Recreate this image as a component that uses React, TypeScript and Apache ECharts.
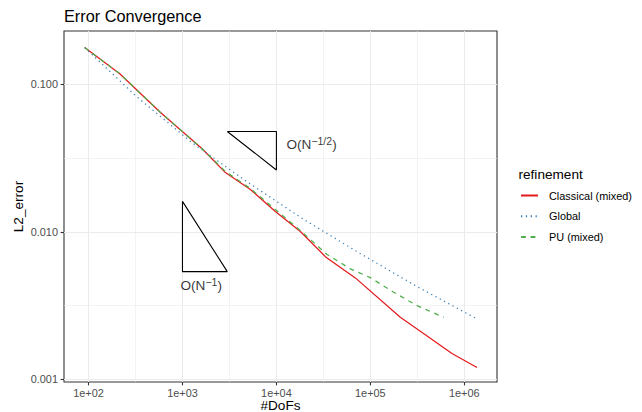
import React, { useEffect, useRef } from "react";
import * as echarts from "echarts";

const FONT = '"Liberation Sans", Arial, Helvetica, sans-serif';

// Data (DoFs, L2 error)
const seriesNames = ["Classical (mixed)", "Global", "PU (mixed)"];

const classicalDofs = [91, 215, 583, 1620, 2865, 5285, 9750, 17990, 34000, 69200, 208300, 384500, 739000, 1365000];
const classicalErr = [0.178, 0.1184, 0.0646, 0.03664, 0.02525, 0.01938, 0.01374, 0.01005, 0.00669, 0.00487, 0.00263, 0.002005, 0.001496, 0.001202];

const globalDofs = [91, 330, 1250, 4900, 19400, 77000, 310000, 1300000];
const globalErr = [0.178, 0.082, 0.0405, 0.0218, 0.01217, 0.00716, 0.00427, 0.00261];

const puDofs = [91, 215, 583, 1620, 2865, 5285, 9750, 17990, 34600, 61200, 100000, 177000, 314000, 603000];
const puErr = [0.178, 0.1184, 0.0646, 0.03664, 0.02568, 0.01969, 0.01417, 0.01021, 0.00702, 0.00561, 0.00489, 0.00389, 0.003157, 0.00263];

// Slope triangles
const triHalfDofs = [3000, 10000, 10000, 3000];
const triHalfErr = [0.048, 0.048, 0.0263, 0.048];
const triOneDofs = [1000, 1000, 3000, 1000];
const triOneErr = [0.0161, 0.00537, 0.00537, 0.0161];

// Annotation label anchors (left edge, vertical centre)
const labelHalf = { dofs: 12800, err: 0.0396, main: "O(N", sup: "\u22121/2" };
const labelOne = { dofs: 953, err: 0.00442, main: "O(N", sup: "\u22121" };

// Axes (log10 exponents)
const xMajorExp = [2, 3, 4, 5, 6];
const xMinorExp = [2.5, 3.5, 4.5, 5.5];
const yMajorExp = [-3, -2, -1];
const yMinorExp = [-2.5, -1.5];
const xExtent = [1.739, 6.348];
const yExtent = [-3.019, -0.637];

const colors = ["#E41A1C", "#377EB8", "#4DAF4A"];

function toPts(xs: number[], ys: number[]) {
  return xs.map((x, i) => [Math.log10(x), Math.log10(ys[i])]);
}

export default function App() {
  const ref = useRef<HTMLDivElement>(null);
  useEffect(() => {
    const chart = echarts.init(ref.current!, null, { renderer: "svg" });
    const tickStyle = { color: "#333333", width: 1.1 };
    const gridMajor = { color: "#EBEBEB", width: 1 };
    const gridMinor = { color: "#EBEBEB", width: 0.6 };
    const labelStyle = { color: "#4D4D4D", fontSize: 10.9, fontFamily: FONT };

    const dataLine = (name: string, xs: number[], ys: number[], color: string, type: any) => ({
      name,
      type: "line",
      symbol: "none",
      silent: true,
      data: toPts(xs, ys),
      lineStyle: { color, width: 1.25, type, cap: "butt" },
      itemStyle: { color },
    });
    const triLine = (xs: number[], ys: number[]) => ({
      type: "line",
      symbol: "none",
      silent: true,
      data: toPts(xs, ys),
      lineStyle: { color: "#000", width: 1.1, type: "solid" },
      z: 5,
    });
    const annot = (l: any) => ({
      type: "scatter",
      silent: true,
      symbolSize: 0,
      data: [[Math.log10(l.dofs), Math.log10(l.err)]],
      label: {
        show: true,
        position: "right",
        distance: 0,
        formatter: `{m|${l.main}}{s|${l.sup}}{m|)}`,
        rich: {
          m: { fontSize: 13.6, color: "#000", fontFamily: FONT, lineHeight: 16, verticalAlign: "bottom" },
          s: { fontSize: 10.5, color: "#000", fontFamily: FONT, lineHeight: 12, verticalAlign: "top" },
        },
      },
      z: 6,
    });

    chart.setOption({
      animation: false,
      backgroundColor: "#ffffff",
      textStyle: { fontFamily: FONT },
      title: [
        {
          text: "Error Convergence",
          left: 64,
          top: 8,
          padding: 0,
          textStyle: { fontSize: 16.3, fontWeight: "normal", color: "#000", fontFamily: FONT },
        },
        {
          text: "refinement",
          left: 518.5,
          top: 167,
          padding: 0,
          textStyle: { fontSize: 13.6, fontWeight: "normal", color: "#000", fontFamily: FONT },
        },
      ],
      grid: {
        left: 64,
        right: 145,
        top: 31,
        bottom: 30,
        show: true,
        borderColor: "#333333",
        borderWidth: 1.1,
        backgroundColor: "#ffffff",
        outerBoundsMode: "none",
      },
      legend: {
        orient: "vertical",
        left: 520,
        top: 188.5,
        itemWidth: 17,
        itemHeight: 14,
        itemGap: 6.8,
        padding: 0,
        selectedMode: false,
        data: seriesNames,
        itemStyle: { opacity: 0 },
        textStyle: { fontSize: 10.9, color: "#000", fontFamily: FONT, padding: [0, 0, 0, 6], lineHeight: 14 },
      },
      xAxis: [
        {
          type: "value",
          min: xExtent[0],
          max: xExtent[1],
          name: "#DoFs",
          nameLocation: "middle",
          nameGap: 16.5,
          nameMoveOverlap: false,
          nameTextStyle: { fontSize: 13.6, lineHeight: 13.6, color: "#000", fontFamily: FONT, verticalAlign: "top" },
          axisLine: { show: false, onZero: false },
          axisTick: { show: true, length: 3.4, lineStyle: tickStyle, customValues: xMajorExp },
          axisLabel: { ...labelStyle, margin: 5, customValues: xMajorExp, formatter: (v: number) => "1e+0" + Math.round(v) },
          splitLine: { show: true, lineStyle: gridMajor },
        },
        {
          type: "value",
          min: xExtent[0],
          max: xExtent[1],
          position: "bottom",
          axisLine: { show: false, onZero: false },
          axisTick: { show: false, customValues: xMinorExp },
          axisLabel: { show: false },
          splitLine: { show: true, lineStyle: gridMinor },
        },
      ],
      yAxis: [
        {
          type: "value",
          min: yExtent[0],
          max: yExtent[1],
          name: "L2_error",
          nameLocation: "middle",
          nameGap: 39,
          nameMoveOverlap: false,
          nameTextStyle: { fontSize: 13.6, color: "#000", fontFamily: FONT },
          axisLine: { show: false, onZero: false },
          axisTick: { show: true, length: 3.4, lineStyle: tickStyle, customValues: yMajorExp },
          axisLabel: { ...labelStyle, margin: 6, customValues: yMajorExp, formatter: (v: number) => Math.pow(10, v).toFixed(3) },
          splitLine: { show: true, lineStyle: gridMajor },
        },
        {
          type: "value",
          min: yExtent[0],
          max: yExtent[1],
          position: "left",
          axisLine: { show: false, onZero: false },
          axisTick: { show: false, customValues: yMinorExp },
          axisLabel: { show: false },
          splitLine: { show: true, lineStyle: gridMinor },
        },
      ],
      series: [
        dataLine(seriesNames[0], classicalDofs, classicalErr, colors[0], "solid"),
        dataLine(seriesNames[1], globalDofs, globalErr, colors[1], [1.25, 3.6]),
        dataLine(seriesNames[2], puDofs, puErr, colors[2], [4.8, 4.8]),
        triLine(triHalfDofs, triHalfErr),
        triLine(triOneDofs, triOneErr),
        annot(labelHalf),
        annot(labelOne),
      ],
    });
    return () => chart.dispose();
  }, []);
  return <div ref={ref} style={{ position: "fixed", left: 0, top: 0, width: 642, height: 412 }} />;
}
